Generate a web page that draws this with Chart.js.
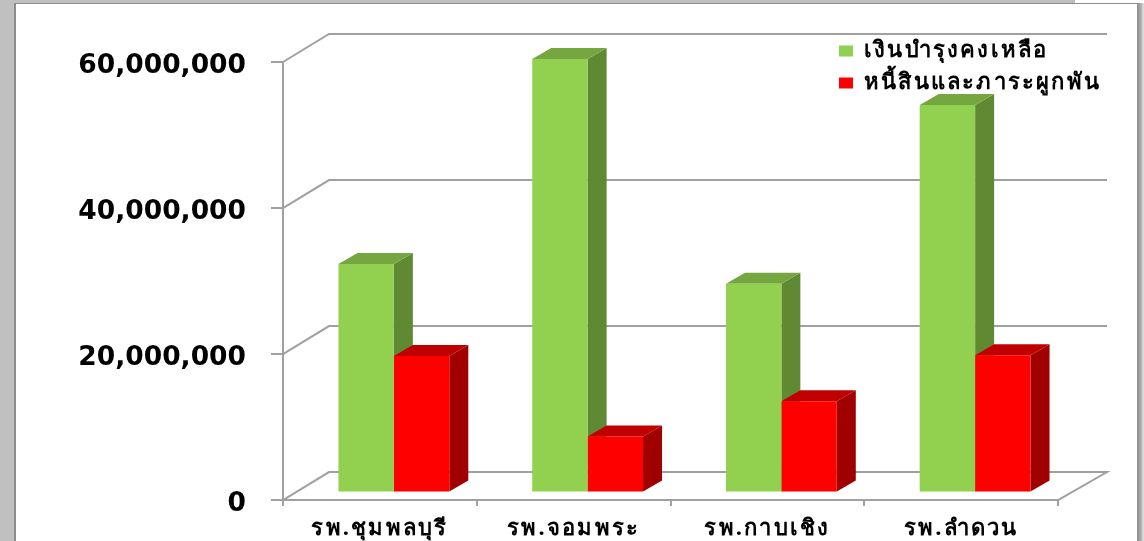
<!DOCTYPE html>
<html>
<head>
<meta charset="utf-8">
<style>
  html, body { margin: 0; padding: 0; background: #fff; overflow: hidden; }
  #greyLeft { position: absolute; left: 0; top: 0; width: 14px; height: 541px; background: #c0c0c0; }
  #greyTop { position: absolute; left: 0; top: 0; width: 1075px; height: 3px; background: #c0c0c0; }
  #panel { position: absolute; left: 14px; top: 3px; width: 1123px; height: 538px; background: #fff;
           border-left: 2px solid #8c8c8c; border-top: 1px solid #8c8c8c; box-sizing: border-box; }
  #shadow { position: absolute; left: 1137px; top: 3px; width: 7px; height: 538px;
            background: linear-gradient(to right, #8c8c8c, #a8a8a8 50%, #e6e6e6); }
  #hospitalChart { position: absolute; left: 0; top: 0; }
</style>
</head>
<body>
<div id="greyLeft"></div>
<div id="greyTop"></div>
<div id="panel"></div>
<div id="shadow"></div>
<canvas id="hospitalChart" width="1144" height="541"></canvas>
<script src="https://cdn.jsdelivr.net/npm/chart.js@4"></script>
<script>
const hospitals = ["รพ.ชุมพลบุรี", "รพ.จอมพระ", "รพ.กาบเชิง", "รพ.ลำดวน"];
const remaining = [31300000, 59400000, 28600000, 53100000];
const liabilities = [18700000, 7700000, 12500000, 18800000];
const yTicks = [0, 20000000, 40000000, 60000000];

const greenFace = ["#92d050", "#5f8a33", "#76a63f"];
const redFace = ["#ff0000", "#a00000", "#c00000"];

// how far the back wall sits from the front plane
const wallDx = 46, wallDy = -28;
// bars stand part way back on the floor
const barDx = 14, barDy = -7.5;
const sideDx = 19, sideDy = -11;

// the thai text in the picture is wider than any installed font
function withSpacing(chart, target, method, spacing) {
    const original = target[method];
    target[method] = function (...args) {
        chart.ctx.letterSpacing = spacing;
        original.apply(this, args);
        chart.ctx.letterSpacing = "0px";
    };
}

const wall3d = {
    id: "wall3d",
    afterInit(chart) {
        withSpacing(chart, chart.legend, "draw", "2.2px");
    },
    beforeDatasetsDraw(chart) {
        const ctx = chart.ctx;
        const area = chart.chartArea;
        const y = chart.scales.y;
        ctx.save();
        ctx.strokeStyle = "#a0a0a0";
        ctx.lineWidth = 2;
        yTicks.forEach(tick => {
            const py = y.getPixelForValue(tick);
            ctx.beginPath();
            ctx.moveTo(area.left, py);
            ctx.lineTo(area.left + wallDx, py + wallDy);
            ctx.lineTo(area.right + 49, py + wallDy);
            if (tick === 0) ctx.lineTo(area.right, py);
            ctx.stroke();
        });
        ctx.restore();

        // sides and tops go first, the library paints the front faces over them
        chart.data.datasets.forEach((ds, i) => {
            const colors = ds.faces;
            chart.getDatasetMeta(i).data.forEach(bar => {
                const left = bar.x - bar.width / 2 + barDx;
                const right = bar.x + bar.width / 2 + barDx;
                const top = bar.y + barDy;
                const bottom = bar.base + barDy;
                ctx.fillStyle = colors[1];
                ctx.beginPath();
                ctx.moveTo(right, top);
                ctx.lineTo(right + sideDx, top + sideDy);
                ctx.lineTo(right + sideDx, bottom + sideDy);
                ctx.lineTo(right, bottom);
                ctx.closePath();
                ctx.fill();
                ctx.fillStyle = colors[2];
                ctx.beginPath();
                ctx.moveTo(left, top);
                ctx.lineTo(left + sideDx, top + sideDy);
                ctx.lineTo(right + sideDx, top + sideDy);
                ctx.lineTo(right, top);
                ctx.closePath();
                ctx.fill();
            });
        });
        ctx.save();
        ctx.translate(barDx, barDy);
    },
    afterDatasetsDraw(chart) {
        chart.ctx.restore();
    },
    beforeDraw(chart) {
        // legend sits inside the plot, top right
        const legend = chart.legend;
        legend.left = 829;
        legend.top = 30;
        legend.right = 1130;
        legend.bottom = 110;
        if (!chart.scales.x.spaced) {
            withSpacing(chart, chart.scales.x, "drawLabels", "2.2px");
            chart.scales.x.spaced = true;
        }
    }
};

new Chart(document.getElementById("hospitalChart"), {
    type: "bar",
    data: {
        labels: hospitals,
        datasets: [
            { label: "เงินบำรุงคงเหลือ", data: remaining, backgroundColor: greenFace[0], faces: greenFace },
            { label: "หนี้สินและภาระผูกพัน", data: liabilities, backgroundColor: redFace[0], faces: redFace }
        ]
    },
    options: {
        responsive: false,
        animation: false,
        layout: { padding: { left: 0, right: 86, top: 62, bottom: 0 } },
        datasets: { bar: { categoryPercentage: 0.572, barPercentage: 1 } },
        plugins: {
            legend: {
                position: "chartArea",
                align: "start",
                labels: {
                    boxWidth: 14,
                    boxHeight: 11,
                    padding: 10,
                    color: "#000",
                    font: { family: "'Noto Sans', 'DejaVu Sans', sans-serif", size: 22, weight: "bold" }
                }
            },
            title: { display: false },
            tooltip: { enabled: false }
        },
        scales: {
            x: {
                afterFit(axis) { axis.height = 40.5; },
                grid: { drawOnChartArea: false, color: "#a0a0a0", lineWidth: 2, tickLength: 6 },
                border: { color: "#a0a0a0", width: 2 },
                ticks: {
                    color: "#000",
                    padding: 9,
                    maxRotation: 0,
                    font: { family: "'Noto Sans', 'DejaVu Sans', sans-serif", size: 22, weight: "bold" }
                }
            },
            y: {
                min: 0,
                max: 60000000,
                afterFit(axis) { axis.width = 283; },
                afterBuildTicks(axis) { axis.ticks = yTicks.map(value => ({ value })); },
                grid: { drawOnChartArea: false, color: "#a0a0a0", lineWidth: 2, tickLength: 12 },
                border: { color: "#a0a0a0", width: 2 },
                ticks: {
                    color: "#000",
                    padding: 25,
                    labelOffset: 4,
                    font: { family: "'DejaVu Sans', sans-serif", size: 26.5, weight: "bold" },
                    callback: value => value.toLocaleString("en-US")
                }
            }
        }
    },
    plugins: [wall3d]
});
</script>
</body>
</html>
